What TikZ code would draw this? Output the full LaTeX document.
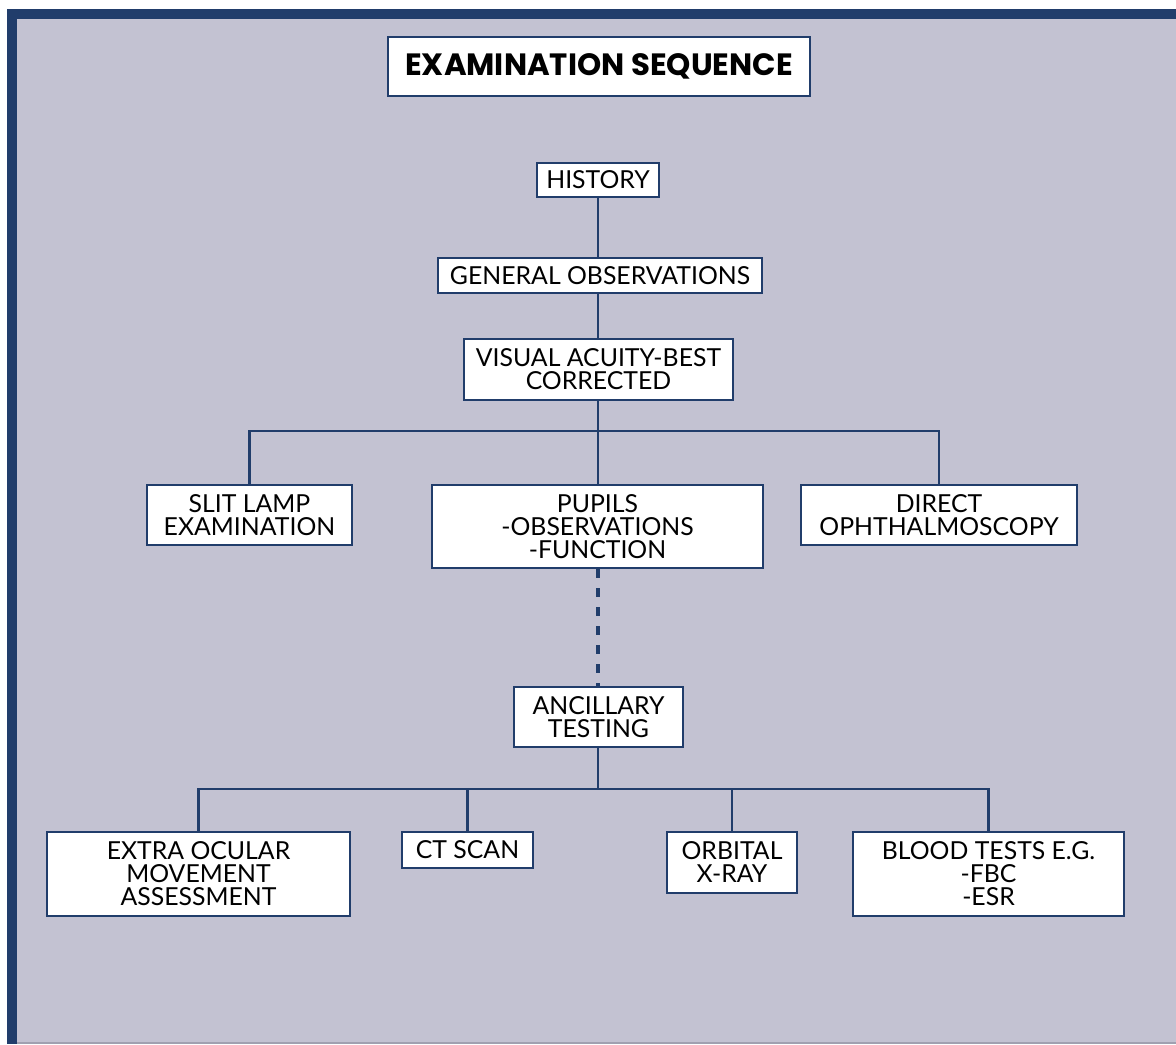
\documentclass[tikz,border=0pt]{standalone}
\usepackage{fontspec}
\setmainfont{Lato}
\newfontfamily\titlefont{Poppins}
\usetikzlibrary{positioning}

\definecolor{navy}{RGB}{33,61,107}
\definecolor{panel}{RGB}{195,194,210}
\definecolor{rim}{RGB}{160,160,176}

\newcommand{\boxfont}{\fontsize{12.4}{11.5}\selectfont}

\begin{document}
\begin{tikzpicture}[x=0.5pt, y=-0.5pt,
    stage/.style={draw=navy, fill=white, line width=1.2pt, align=center,
                  inner sep=0pt, font=\boxfont},
    link/.style={draw=navy, line width=1.3pt}]
    \useasboundingbox (0,0) rectangle (1176,1044);

    % Frame
    \fill[panel] (17,19) rectangle (1176,1043);
    \fill[rim] (17,1042) rectangle (1176,1044);
    \fill[navy] (7,9) rectangle (1176,19);
    \fill[navy] (7,9) rectangle (17,1044);

    % Vertices
    \node[stage, minimum width=211pt, minimum height=29.5pt,
          font=\titlefont\bfseries\fontsize{15.4}{15}\selectfont] (title) at (599,66.5) {EXAMINATION SEQUENCE};
    \node[stage, minimum width=61pt, minimum height=17pt] (history) at (598,180) {HISTORY};
    \node[stage, minimum width=162pt, minimum height=17.5pt] (general) at (600,275.5) {GENERAL OBSERVATIONS};
    \node[stage, minimum width=134.5pt, minimum height=30.5pt] (acuity) at (598.5,369.5) {VISUAL ACUITY-BEST\\CORRECTED};

    \node[stage, minimum width=102.5pt, minimum height=30pt] (slitlamp) at (249.5,515) {SLIT LAMP\\EXAMINATION};
    \node[stage, minimum width=165.5pt, minimum height=41.5pt] (pupils) at (597.5,526.5) {PUPILS\\-OBSERVATIONS\\-FUNCTION};
    \node[stage, minimum width=138pt, minimum height=30pt] (direct) at (939,515) {DIRECT\\OPHTHALMOSCOPY};

    \node[stage, minimum width=84.5pt, minimum height=30pt] (ancillary) at (598.5,717) {ANCILLARY\\TESTING};

    \node[stage, minimum width=151.5pt, minimum height=42pt] (ocular) at (198.5,874) {EXTRA OCULAR\\MOVEMENT\\ASSESSMENT};
    \node[stage, minimum width=65.5pt, minimum height=18pt] (ctscan) at (467.5,850) {CT SCAN};
    \node[stage, minimum width=65pt, minimum height=30.5pt] (orbital) at (732,862.5) {ORBITAL\\X-RAY};
    \node[stage, minimum width=135.5pt, minimum height=42pt] (blood) at (988.5,874) {BLOOD TESTS E.G.\\-FBC\\-ESR};

    \coordinate (split1) at (598,431);
    \coordinate (split2) at (598,789);

    % Edges
    \draw[link] (history.south) -- (history.south |- general.north);
    \draw[link] (split1 |- general.south) -- (split1 |- acuity.north);
    \draw[link] (split1 |- acuity.south) -- (split1 |- pupils.north);
    \draw[link] (slitlamp.north) |- (split1) -| (direct.north);
    \draw[link, line width=1.6pt, dash pattern=on 4.5pt off 5pt] (split1 |- pupils.south) -- (split1 |- ancillary.north);
    \draw[link] (split2 |- ancillary.south) -- (split2);
    \draw[link] (ocular.north) |- (split2) -| (blood.north);
    \draw[link] (ctscan.north) -- (ctscan.north |- split2);
    \draw[link] (orbital.north) -- (orbital.north |- split2);
\end{tikzpicture}
\end{document}
